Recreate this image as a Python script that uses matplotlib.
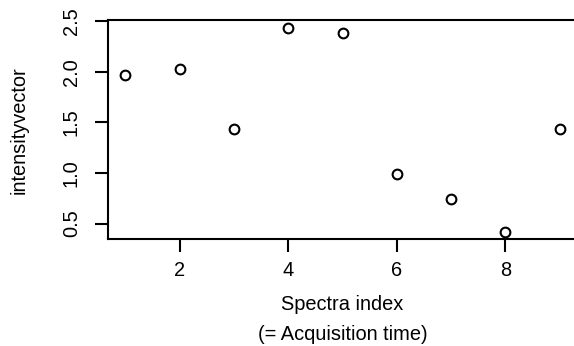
import matplotlib
matplotlib.use("Agg")
import matplotlib.pyplot as plt

# spectra index vs intensity
spectra_index = [1, 2, 3, 4, 5, 6, 7, 8, 9]
intensity = [1.964, 2.027, 1.431, 2.429, 2.383, 0.992, 0.739, 0.416, 1.434]
x_ticks = [2, 4, 6, 8]
y_ticks = [0.5, 1.0, 1.5, 2.0, 2.5]

plt.rcParams['font.family'] = ['Liberation Sans', 'DejaVu Sans']
plt.rcParams['font.size'] = 14.4

W, H = 574, 346
fig = plt.figure(figsize=(W / 100, H / 100), dpi=100)
ax = fig.add_axes([108 / W, 1 - 239.3 / H, (577 - 108) / W, (239.3 - 20) / H])

ax.plot(spectra_index, intensity, 'o', mfc='none', mec='black', ms=7, mew=1.5)

ax.set_xlim(0.68, 9.32)
ax.set_ylim(0.344, 2.511)
ax.set_xticks(x_ticks)
ax.set_xticklabels([str(t) for t in x_ticks])
ax.set_yticks(y_ticks)
ax.set_yticklabels(["%.1f" % t for t in y_ticks], rotation=90, va='center')

for s in ax.spines.values():
    s.set_linewidth(1.5)
ax.tick_params(length=9.5, width=1.5, color='black')
ax.tick_params(axis='x', pad=6)
ax.tick_params(axis='y', pad=10)

fig.text(19 / W, 1 - 130 / H, "intensityvector", rotation=90, ha='center', va='center')
fig.text(342.5 / W, 1 - 304.5 / H, "Spectra index", ha='center', va='center')
fig.text(342.5 / W, 1 - 334.5 / H, "(= Acquisition time)", ha='center', va='center')

fig.savefig("out.png", dpi=100)
